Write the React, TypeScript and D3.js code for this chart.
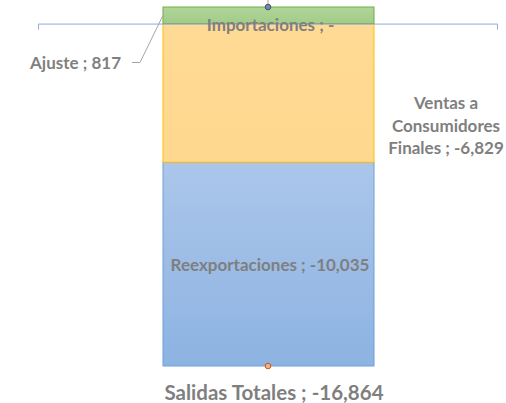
import * as d3 from "d3";

const categories = ["Reexportaciones", "Ventas a Consumidores Finales", "Ajuste"];
const values = [-10035, -6829, 817];
const importaciones = 0;
const totalLabel = "Salidas Totales";
const totalValue = -16864;

const width = 506;
const height = 403;

const fmt = (v: number) => (v === 0 ? "-" : d3.format(",")(v).replace("\u2212", "-"));

const App = () => {
  const y = d3.scaleLinear().domain([totalValue, 817]).range([366, 7]);
  const x = d3.scaleBand().domain(["bar"]).range([38, 498]).paddingInner(0).paddingOuter(0.28);
  const barX = 163;
  const barW = 211;
  const cx = barX + barW / 2;

  const reex = values[0];
  const ventas = values[1];
  const ajuste = values[2];
  const segs = [
    { key: "Reexportaciones", y0: reex + ventas, y1: ventas, fill: "url(#gBlue)", stroke: "#6f9fd8" },
    { key: "Ventas", y0: ventas, y1: 0, fill: "url(#gOrange)", stroke: "#ffc000" },
    { key: "Ajuste", y0: 0, y1: ajuste, fill: "url(#gGreen)", stroke: "#70ad47" },
  ];

  const y0 = y(0);
  const labelStyle = {
    fontFamily: "Lato, 'Open Sans', sans-serif",
    fontWeight: 700,
    fill: "#7f7f7f",
  } as const;

  return (
    <svg
      width={width}
      height={height}
      style={{ position: "absolute", left: 0, top: 0, background: "#fff" }}
    >
      <defs>
        <linearGradient id="gBlue" x1="0" y1="0" x2="0" y2="1">
          <stop offset="0" stopColor="#abc6ea" />
          <stop offset="1" stopColor="#8db3e2" />
        </linearGradient>
        <linearGradient id="gOrange" x1="0" y1="0" x2="0" y2="1">
          <stop offset="0" stopColor="#ffda94" />
          <stop offset="1" stopColor="#ffd88f" />
        </linearGradient>
        <linearGradient id="gGreen" x1="0" y1="0" x2="0" y2="1">
          <stop offset="0" stopColor="#b0d59a" />
          <stop offset="1" stopColor="#a2cc87" />
        </linearGradient>
      </defs>

      {segs.map((s) => (
        <rect
          key={s.key}
          x={barX}
          y={y(s.y1)}
          width={barW}
          height={y(s.y0) - y(s.y1)}
          fill={s.fill}
          stroke={s.stroke}
          strokeWidth={1}
        />
      ))}

      {/* category axis */}
      <path
        d={`M${x.range()[0] + 0.5},${y0 + 6}V${y0 + 0.5}H${x.range()[1] - 0.5}V${y0 + 6}`}
        fill="none"
        stroke="#8eaadb"
        strokeWidth={1}
      />

      {/* top marker */}
      <line x1={cx - 0.5} x2={cx - 0.5} y1={0} y2={y(ajuste)} stroke="#a5a5a5" />
      <circle cx={cx - 0.5} cy={y(ajuste)} r={2.8} fill="#7387b5" stroke="#44546a" strokeWidth={1} />
      {/* bottom marker */}
      <circle cx={cx - 0.5} cy={y(totalValue)} r={2.8} fill="#f4b183" stroke="#c55a11" strokeWidth={1} />

      {/* Ajuste leader */}
      <polyline
        points={`${barX},${y(ajuste / 2)} ${140},62.5 ${132},62.5`}
        fill="none"
        stroke="#a5a5a5"
        strokeWidth={1}
      />

      <text x={121} y={69} textAnchor="end" fontSize={17} {...labelStyle}>
        {`${categories[2]} ;  ${fmt(ajuste)}`}
      </text>
      <text x={270.5} y={31} textAnchor="middle" fontSize={17} {...labelStyle}>
        {`Importaciones ;  ${fmt(importaciones)}`}
      </text>
      <text x={446} textAnchor="middle" fontSize={17} {...labelStyle}>
        <tspan x={446} y={109}>Ventas a</tspan>
        <tspan x={446} y={132}>Consumidores</tspan>
        <tspan x={446} y={154}>{`Finales ; ${fmt(ventas)}`}</tspan>
      </text>
      <text x={270} y={271} textAnchor="middle" fontSize={17} {...labelStyle}>
        {`${categories[0]} ; ${fmt(reex)}`}
      </text>
      <text x={274} y={400} textAnchor="middle" fontSize={20.5} {...labelStyle}>
        {`${totalLabel} ; ${fmt(totalValue)}`}
      </text>
    </svg>
  );
};

export default App;
